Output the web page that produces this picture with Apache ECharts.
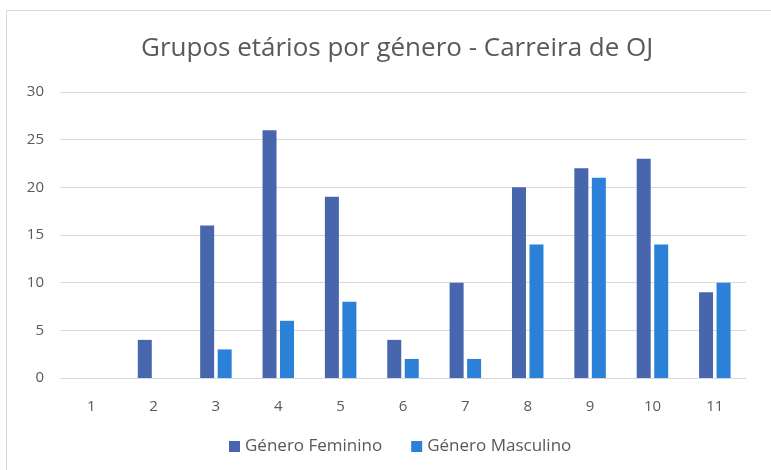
<!DOCTYPE html>
<html>
<head>
<meta charset="utf-8">
<script src="https://cdn.jsdelivr.net/npm/echarts@6/dist/echarts.min.js"></script>
<style>
  html, body { margin: 0; padding: 0; background: #fff; }
  #frame { position: absolute; left: 6px; top: 10px; width: 780px; height: 480px; border: 1px solid #d9d9d9; }
  #main { position: absolute; left: 0; top: 0; width: 771px; height: 470px; }
</style>
</head>
<body>
<div id="frame"></div>
<div id="main"></div>
<script>
var categories = ['1', '2', '3', '4', '5', '6', '7', '8', '9', '10', '11'];
var feminino = [0, 4, 16, 26, 19, 4, 10, 20, 22, 23, 9];
var masculino = [0, 0, 3, 6, 8, 2, 2, 14, 21, 14, 10];

var chart = echarts.init(document.getElementById('main'));
var font = '"Open Sans", "Noto Sans", sans-serif';

var option = {
    animation: false,
    title: {
        text: 'Grupos etários por género - Carreira de OJ',
        left: 136,
        top: 31,
        textStyle: { fontFamily: font, fontSize: 26, fontWeight: 'normal', color: '#595959' }
    },
    legend: {
        bottom: 10,
        left: 224,
        itemWidth: 11,
        itemHeight: 11,
        itemGap: 29,
        icon: 'rect',
        textStyle: { fontFamily: font, fontSize: 17, color: '#595959' }
    },
    grid: { left: 60, right: 25, top: 92, bottom: 92 },
    xAxis: {
        type: 'category',
        data: categories,
        axisLine: { lineStyle: { color: '#d9d9d9' } },
        axisTick: { show: false },
        axisLabel: { fontFamily: font, fontSize: 15, color: '#595959', margin: 21 }
    },
    yAxis: {
        type: 'value',
        min: 0,
        max: 30,
        interval: 5,
        axisLine: { show: false },
        axisTick: { show: false },
        axisLabel: { fontFamily: font, fontSize: 15, color: '#595959', margin: 16 },
        splitLine: { lineStyle: { color: '#d9d9d9' } }
    },
    series: [
        {
            name: 'Género Feminino',
            type: 'bar',
            data: feminino,
            barWidth: 14,
            barGap: '25%',
            itemStyle: { color: '#4866AE' }
        },
        {
            name: 'Género Masculino',
            type: 'bar',
            data: masculino,
            barWidth: 14,
            itemStyle: { color: '#2B80D8' }
        }
    ]
};
chart.setOption(option);
</script>
</body>
</html>
